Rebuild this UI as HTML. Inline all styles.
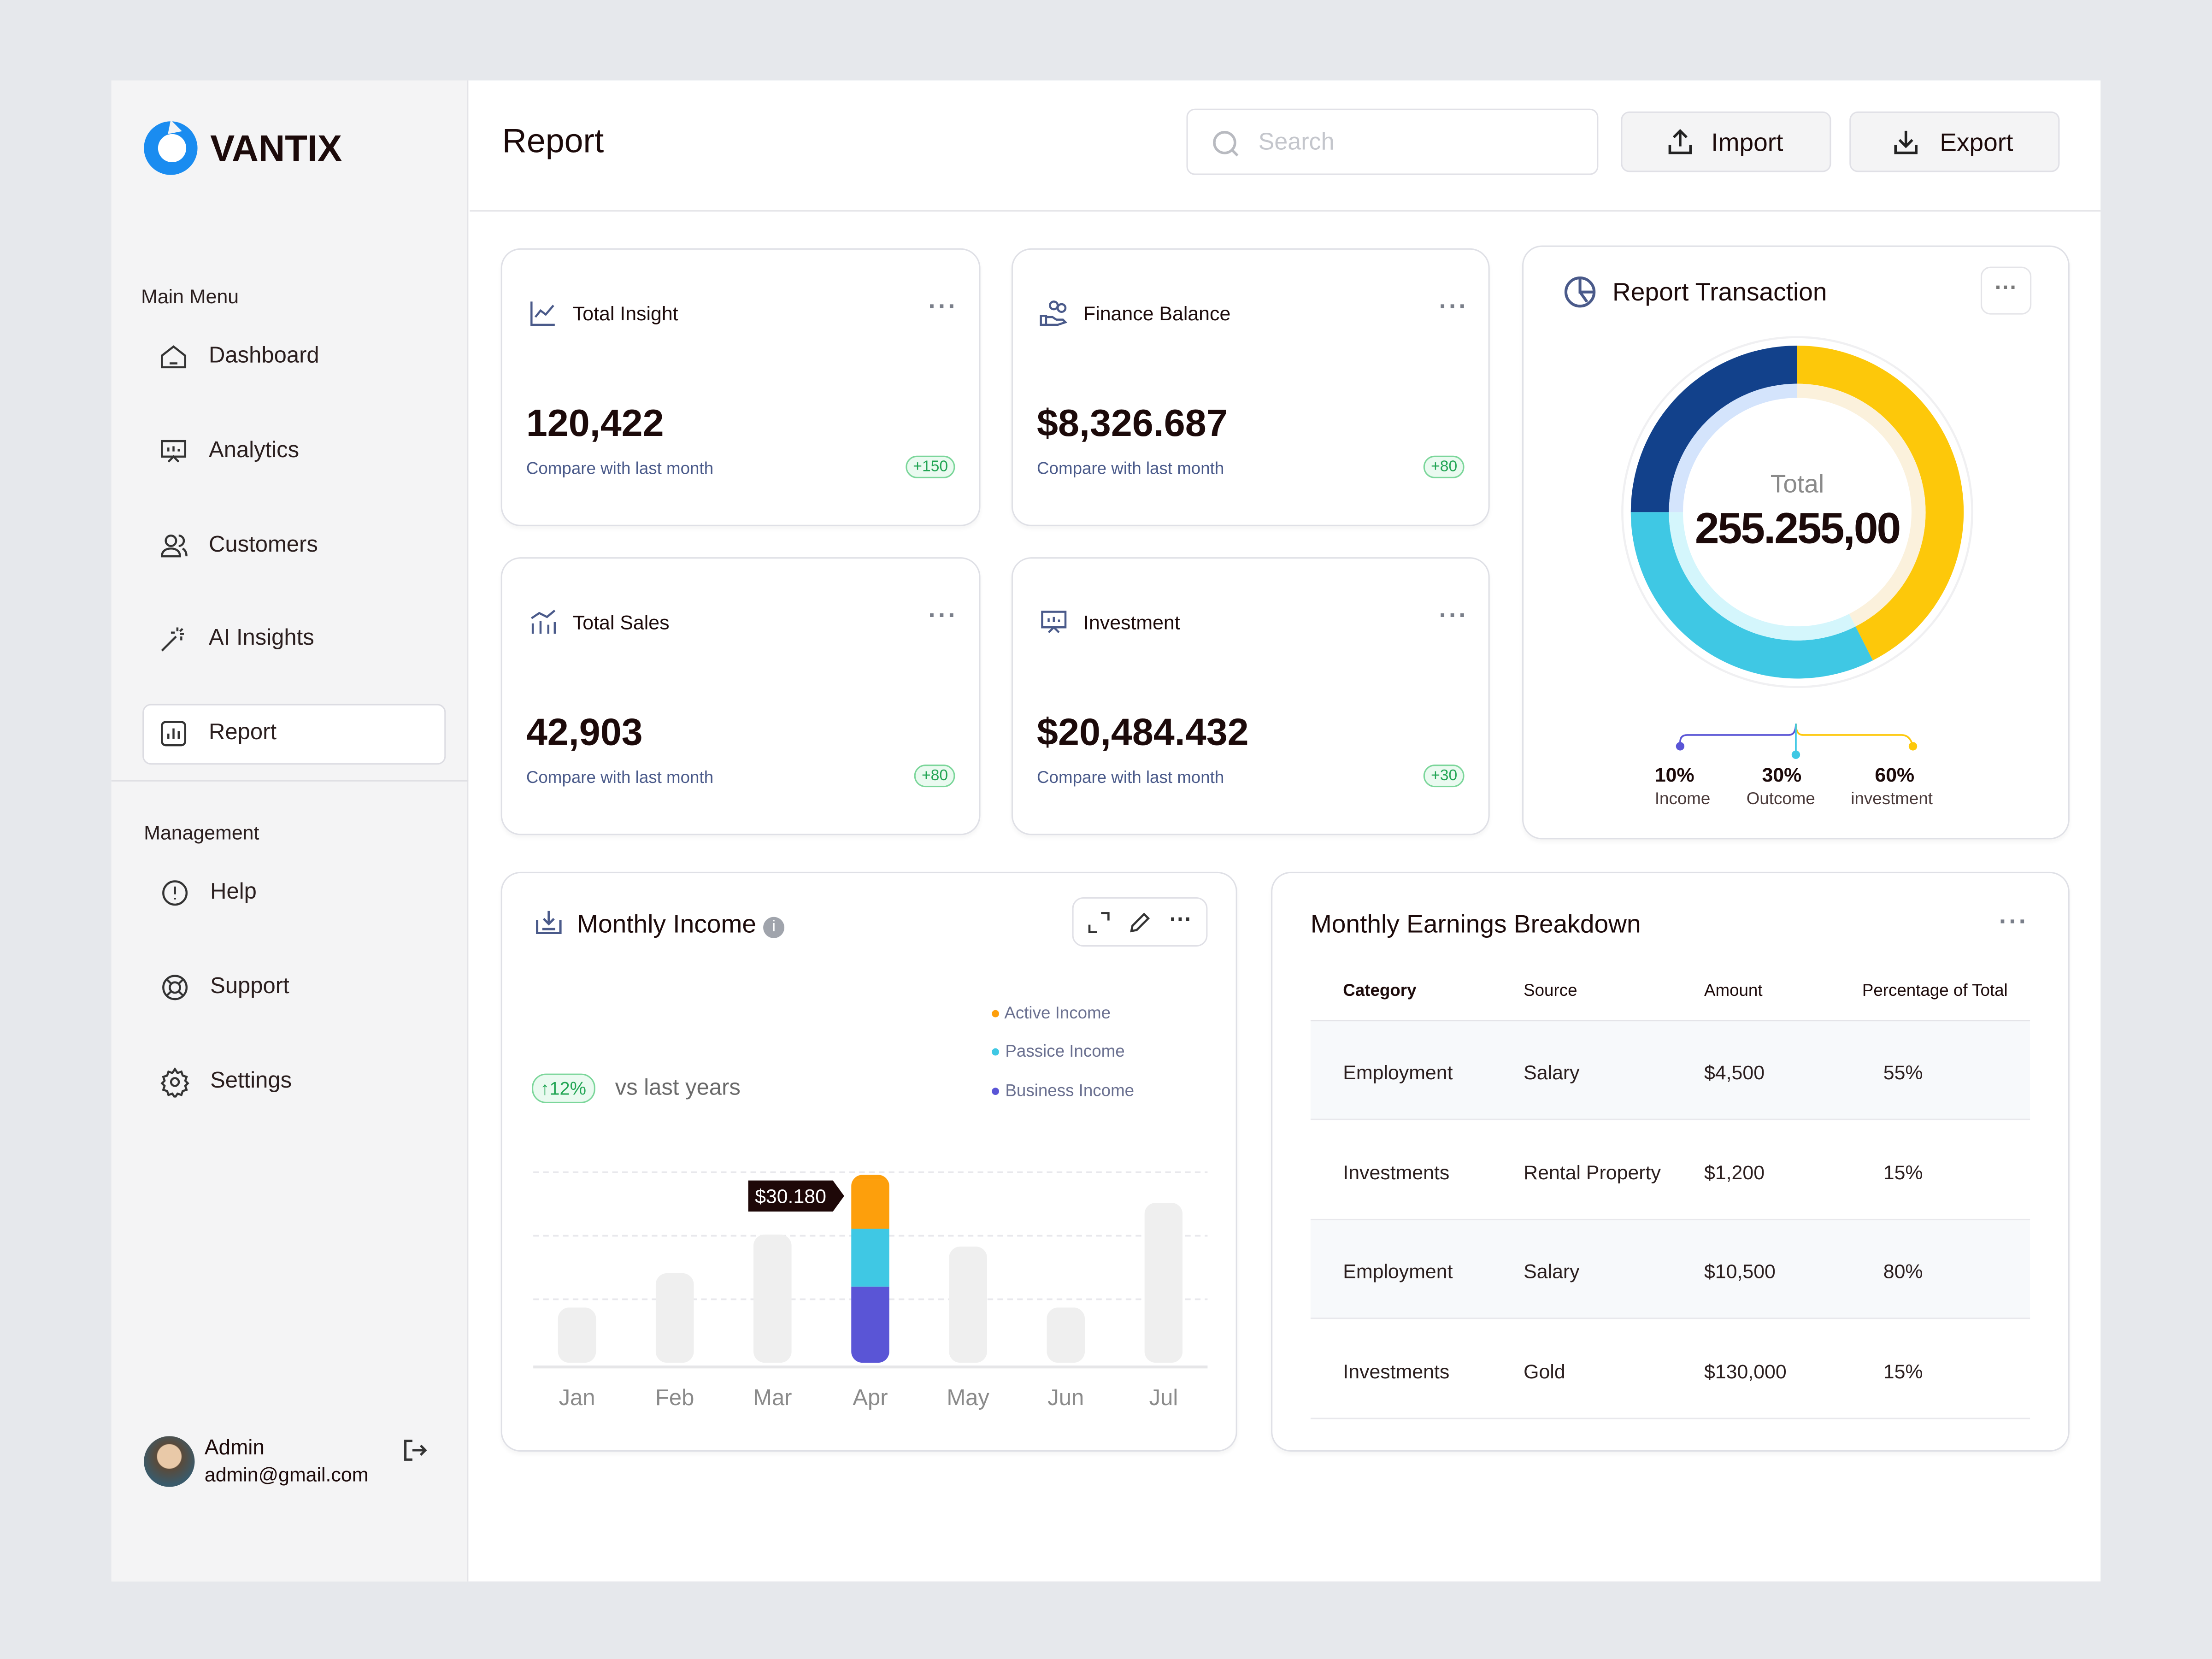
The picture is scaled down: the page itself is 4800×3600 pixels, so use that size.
<!DOCTYPE html>
<html><head><meta charset="utf-8">
<style>
*{box-sizing:border-box;margin:0;padding:0}
html,body{width:4800px;height:3600px;overflow:hidden;background:#e6e8ec;font-family:"Liberation Sans",sans-serif;color:#1c0a0a}
#s{position:absolute;left:0;top:0;width:1568px;height:1176px;transform:scale(3.06123);transform-origin:0 0}
.abs{position:absolute}
.card{position:absolute;background:#fff;border:1px solid #dfe0e6;border-radius:14px;box-shadow:0 2px 3px rgba(0,0,0,.04)}
.nav{position:absolute;left:112px;display:flex;align-items:center;gap:14px;font-size:16px;color:#2a1e1e}
.nav svg{width:22px;height:22px}
.dots{position:absolute;color:#7a7f8a;font-size:18px;letter-spacing:1px;font-weight:bold}
.ct{position:absolute;left:18px;top:34px;font-size:14px;display:flex;gap:10px;align-items:center}
.big{position:absolute;left:17px;top:108px;font-size:27px;font-weight:bold}
.cmp{position:absolute;left:17px;top:148px;font-size:12px;color:#4a5a8a}
.badge{position:absolute;right:17px;top:146px;font-size:11px;color:#22a554;border:1px solid #7bd69a;background:#eafaf0;border-radius:9px;padding:1px 4px}
.tr{position:absolute;left:27px;width:510px;height:70px;font-size:14px;color:#2a1e1e}
.tr span{position:absolute;top:28px}
</style></head><body>
<div id="s">
<div class="abs" style="left:79px;top:57px;width:1410px;height:1064px;background:#fff"></div>
<div class="abs" style="left:79px;top:57px;width:253px;height:1064px;background:#f4f4f5;border-right:1px solid #e4e4e8">
  <div class="abs" style="left:22px;top:28px;display:flex;align-items:center;gap:8px">
    <svg width="40" height="40" viewBox="0 0 40 40"><circle cx="20" cy="20" r="19" fill="#1a8cf0"/><circle cx="21" cy="20" r="10" fill="#fff"/><path d="M20 0 L28 8 L18 10Z" fill="#f4f4f5"/></svg>
    <span style="font-size:26px;font-weight:bold;color:#1c0a0a">VANTIX</span></div>
  <div class="abs" style="left:21px;top:145px;font-size:14px;color:#2a1e1e">Main Menu</div>
  <div class="abs" style="left:0;top:496px;width:253px;height:1px;background:#e0e0e4"></div>
  <div class="abs" style="left:23px;top:525px;font-size:14px;color:#2a1e1e">Management</div>
</div>
<div class="abs" style="left:101px;top:499px;width:215px;height:43px;background:#fff;border:1px solid #dcdce2;border-radius:6px"></div>
<div class="nav" style="top:242px"><svg viewBox="0 0 24 24" fill="none" stroke="#333" stroke-width="1.6"><path d="M3 11l9-7 9 7v9H3z"/><path d="M9 17h6"/></svg>Dashboard</div>
<div class="nav" style="top:309px"><svg viewBox="0 0 24 24" fill="none" stroke="#333" stroke-width="1.6"><rect x="3" y="4" width="18" height="12"/><path d="M8 20l4-4 4 4M8 12v-3M12 12V8M16 12v-2"/></svg>Analytics</div>
<div class="nav" style="top:376px"><svg viewBox="0 0 24 24" fill="none" stroke="#333" stroke-width="1.6"><circle cx="10" cy="8" r="4"/><path d="M3 20c0-4 3-6 7-6s7 2 7 6zM16 4a4 4 0 010 8M19 14c2 1 3 3 3 6"/></svg>Customers</div>
<div class="nav" style="top:442px"><svg viewBox="0 0 24 24" fill="none" stroke="#333" stroke-width="1.6"><path d="M3 21L14 10M15 3v3M20 8h-3M19 4l-2 2M13 7h-3M18 13v-3"/></svg>AI Insights</div>
<div class="nav" style="top:509px"><svg viewBox="0 0 24 24" fill="none" stroke="#333" stroke-width="1.6"><rect x="3" y="3" width="18" height="18" rx="3"/><path d="M8 16v-4M12 16V8M16 16v-6"/></svg>Report</div>
<div class="nav" style="top:622px;left:113px"><svg viewBox="0 0 24 24" fill="none" stroke="#333" stroke-width="1.6"><circle cx="12" cy="12" r="9"/><path d="M12 7v6M12 16v1"/></svg>Help</div>
<div class="nav" style="top:689px;left:113px"><svg viewBox="0 0 24 24" fill="none" stroke="#333" stroke-width="1.6"><circle cx="12" cy="12" r="9"/><circle cx="12" cy="12" r="4"/><path d="M6 6l3 3M18 6l-3 3M6 18l3-3M18 18l-3-3"/></svg>Support</div>
<div class="nav" style="top:756px;left:113px"><svg viewBox="0 0 24 24" fill="none" stroke="#333" stroke-width="1.6"><circle cx="12" cy="12" r="3"/><path d="M12 2l2 3 3-1 1 3 3 1-1 3 2 2-2 2 1 3-3 1-1 3-3-1-2 3-2-3-3 1-1-3-3-1 1-3-2-2 2-2-1-3 3-1 1-3 3 1z"/></svg>Settings</div>
<div class="abs" style="left:102px;top:1018px;width:36px;height:36px;border-radius:50%;background:radial-gradient(circle at 50% 40%,#e9c9a8 30%,#5a4a3a 32%,#3a5a6a 70%)"></div>
<div class="abs" style="left:145px;top:1018px;font-size:15px">Admin</div>
<div class="abs" style="left:145px;top:1037px;font-size:14px">admin@gmail.com</div>
<svg class="abs" style="left:284px;top:1018px" width="20" height="20" viewBox="0 0 24 24" fill="none" stroke="#333" stroke-width="2"><path d="M10 4H4v16h6M10 12h11M17 8l4 4-4 4"/></svg>

<div class="abs" style="left:333px;top:149px;width:1156px;height:1px;background:#e4e4e8"></div>
<div class="abs" style="left:356px;top:87px;font-size:24px">Report</div>
<div class="abs" style="left:841px;top:77px;width:292px;height:47px;border:1px solid #e0e0e6;border-radius:6px;font-size:17px;color:#c4c6cc;padding:13px 0 0 50px">Search
<svg class="abs" style="left:16px;top:13px" width="22" height="22" viewBox="0 0 24 24" fill="none" stroke="#b8bac0" stroke-width="2"><circle cx="11" cy="11" r="8"/><path d="M17 17l4 4"/></svg></div>
<div class="abs" style="left:1149px;top:79px;width:149px;height:43px;background:#f4f4f5;border:1px solid #e0e0e6;border-radius:6px;font-size:18px;padding:11px 0 0 63px">Import
<svg class="abs" style="left:30px;top:10px" width="22" height="22" viewBox="0 0 24 24" fill="none" stroke="#222" stroke-width="2"><path d="M4 14v6h16v-6M12 15V3M7 8l5-5 5 5"/></svg></div>
<div class="abs" style="left:1311px;top:79px;width:149px;height:43px;background:#f4f4f5;border:1px solid #e0e0e6;border-radius:6px;font-size:18px;padding:11px 0 0 63px">Export
<svg class="abs" style="left:28px;top:10px" width="22" height="22" viewBox="0 0 24 24" fill="none" stroke="#222" stroke-width="2"><path d="M4 14v6h16v-6M12 3v12M7 10l5 5 5-5"/></svg></div>

<div class="card" style="left:355px;top:176px;width:340px;height:197px">
 <div class="ct"><svg width="22" height="22" viewBox="0 0 24 24" fill="none" stroke="#4a5a8a" stroke-width="1.6"><path d="M3 3v18h18M6 15l4-5 4 3 6-7"/></svg>Total Insight</div>
 <div class="dots" style="left:302px;top:30px">···</div>
 <div class="big">120,422</div>
 <div class="cmp">Compare with last month</div>
 <div class="badge">+150</div></div>
<div class="card" style="left:717px;top:176px;width:339px;height:197px">
 <div class="ct"><svg width="22" height="22" viewBox="0 0 24 24" fill="none" stroke="#4a5a8a" stroke-width="1.6"><circle cx="12" cy="6" r="3"/><circle cx="18" cy="8" r="3"/><path d="M2 14h4v7H2zM6 15h5l3 2h5l2 2-6 2H6"/></svg>Finance Balance</div>
 <div class="dots" style="left:302px;top:30px">···</div>
 <div class="big">$8,326.687</div>
 <div class="cmp">Compare with last month</div>
 <div class="badge">+80</div></div>
<div class="card" style="left:355px;top:395px;width:340px;height:197px">
 <div class="ct"><svg width="22" height="22" viewBox="0 0 24 24" fill="none" stroke="#4a5a8a" stroke-width="1.6"><path d="M4 21v-8M10 21v-10M16 21v-7M21 21v-9M3 9l6-4 6 3 6-5"/></svg>Total Sales</div>
 <div class="dots" style="left:302px;top:30px">···</div>
 <div class="big">42,903</div>
 <div class="cmp">Compare with last month</div>
 <div class="badge">+80</div></div>
<div class="card" style="left:717px;top:395px;width:339px;height:197px">
 <div class="ct"><svg width="22" height="22" viewBox="0 0 24 24" fill="none" stroke="#4a5a8a" stroke-width="1.6"><rect x="3" y="4" width="18" height="12"/><path d="M8 20l4-4 4 4M8 12v-3M12 12V8M16 12v-2"/></svg>Investment</div>
 <div class="dots" style="left:302px;top:30px">···</div>
 <div class="big">$20,484.432</div>
 <div class="cmp">Compare with last month</div>
 <div class="badge">+30</div></div>

<div class="card" style="left:1079px;top:174px;width:388px;height:421px">
 <svg class="abs" style="left:28px;top:20px" width="24" height="24" viewBox="0 0 24 24" fill="none" stroke="#4a5a8a" stroke-width="2"><circle cx="12" cy="12" r="10"/><path d="M12 2v10h10M12 12l5 7"/></svg>
 <div class="abs" style="left:63px;top:22px;font-size:18px">Report Transaction</div>
 <div class="abs" style="left:324px;top:14px;width:36px;height:34px;border:1px solid #e4e4e8;border-radius:7px;color:#777;font-weight:bold;text-align:center;padding-top:6px;font-size:16px">···</div>
 <svg id="donut" class="abs" style="left:0;top:0" width="388" height="421"></svg>
 <div class="abs" style="left:0;width:388px;top:158px;text-align:center;font-size:18px;color:#8a8a8a">Total</div>
 <div class="abs" style="left:0;width:388px;top:182px;text-align:center;font-size:31px;font-weight:bold;letter-spacing:-1px">255.255,00</div>
 <div class="abs" style="left:93px;top:366px;font-size:14px;font-weight:bold">10%</div>
 <div class="abs" style="left:93px;top:384px;font-size:12px;color:#4a3a3a">Income</div>
 <div class="abs" style="left:169px;top:366px;font-size:14px;font-weight:bold">30%</div>
 <div class="abs" style="left:158px;top:384px;font-size:12px;color:#4a3a3a">Outcome</div>
 <div class="abs" style="left:249px;top:366px;font-size:14px;font-weight:bold">60%</div>
 <div class="abs" style="left:232px;top:384px;font-size:12px;color:#4a3a3a">investment</div>
 <svg class="abs" style="left:0;top:330px" width="388" height="40" fill="none" stroke-width="1.2">
  <path d="M111 24v-3q0-5 5-5h72q5 0 5-8" stroke="#5a55d6"/><path d="M193 8q0 8 5 8h70q6 0 8 8" stroke="#fdc80a"/><path d="M193 8v22" stroke="#3fc8e4"/>
  <circle cx="111" cy="24" r="3" fill="#5a55d6" stroke="none"/><circle cx="193" cy="30" r="3" fill="#3fc8e4" stroke="none"/><circle cx="276" cy="24" r="3" fill="#fdc80a" stroke="none"/></svg>
</div>

<div class="card" style="left:355px;top:618px;width:522px;height:411px">
 <svg class="abs" style="left:22px;top:24px" width="22" height="22" viewBox="0 0 24 24" fill="none" stroke="#4a5a8a" stroke-width="1.8"><path d="M3 10v10h18V10M12 3v10M8 9l4 4 4-4M7 17h10"/></svg>
 <div class="abs" style="left:53px;top:26px;font-size:18px">Monthly Income <span style="display:inline-block;width:15px;height:15px;border-radius:50%;background:#a0a4ac;color:#fff;font-size:11px;text-align:center;vertical-align:1px;line-height:15px">i</span></div>
 <div class="abs" style="left:404px;top:17px;width:96px;height:35px;border:1px solid #e0e0e6;border-radius:8px"></div>
 <svg class="abs" style="left:414px;top:26px" width="18" height="18" viewBox="0 0 24 24" fill="none" stroke="#333" stroke-width="2"><path d="M3 14v7h7M21 10V3h-7"/></svg>
 <svg class="abs" style="left:443px;top:26px" width="18" height="18" viewBox="0 0 24 24" fill="none" stroke="#333" stroke-width="2"><path d="M4 20l1-5L16 4l4 4L9 19z"/></svg>
 <div class="abs" style="left:473px;top:25px;font-weight:bold;font-size:16px;color:#333">···</div>
 <div class="abs" style="left:21px;top:142px;font-size:13px;color:#22a554;border:1px solid #7bd69a;background:#eafaf0;border-radius:10px;padding:2px 5px">↑12%</div>
 <div class="abs" style="left:80px;top:144px;font-size:16px;color:#6a6a6a">vs last years</div>
 <div class="abs" style="left:346px;top:92px;font-size:12px;color:#6a7090"><span style="color:#fd9f0c">●</span> Active Income</div>
 <div class="abs" style="left:346px;top:119px;font-size:12px;color:#6a7090"><span style="color:#3fc8e4">●</span> Passice Income</div>
 <div class="abs" style="left:346px;top:147px;font-size:12px;color:#6a7090"><span style="color:#5a55d6">●</span> Business Income</div>
 <svg id="bars" class="abs" style="left:0;top:0" width="522" height="411"></svg>
</div>

<div class="card" style="left:901px;top:618px;width:566px;height:411px">
 <div class="abs" style="left:27px;top:26px;font-size:18px">Monthly Earnings Breakdown</div>
 <div class="dots" style="left:515px;top:24px">···</div>
 <div class="abs" style="left:27px;top:70px;width:510px;height:35px;border-bottom:1px solid #e4e4e8;font-size:12px">
  <span class="abs" style="left:23px;top:6px;font-weight:bold">Category</span><span class="abs" style="left:151px;top:6px">Source</span><span class="abs" style="left:279px;top:6px">Amount</span><span class="abs" style="left:391px;top:6px">Percentage of Total</span></div>
 <div class="tr" style="top:105px;background:#f7f9fb;border-bottom:1px solid #e8e8ec"><span style="left:23px">Employment</span><span style="left:151px">Salary</span><span style="left:279px">$4,500</span><span style="left:406px">55%</span></div>
 <div class="tr" style="top:176px;border-bottom:1px solid #e8e8ec"><span style="left:23px">Investments</span><span style="left:151px">Rental Property</span><span style="left:279px">$1,200</span><span style="left:406px">15%</span></div>
 <div class="tr" style="top:246px;background:#f7f9fb;border-bottom:1px solid #e8e8ec"><span style="left:23px">Employment</span><span style="left:151px">Salary</span><span style="left:279px">$10,500</span><span style="left:406px">80%</span></div>
 <div class="tr" style="top:317px;border-bottom:1px solid #e8e8ec"><span style="left:23px">Investments</span><span style="left:151px">Gold</span><span style="left:279px">$130,000</span><span style="left:406px">15%</span></div>
</div>
</div>
<script>
const months = ["Jan","Feb","Mar","Apr","May","Jun","Jul"];
const totals = [8.7, 14.1, 20.2, 29.6, 18.3, 8.7, 25.2];
const activeIncome = [0,0,0,7.8,0,0,0];
const passiveIncome = [0,0,0,9.1,0,0,0];
const businessIncome = [0,0,0,12.0,0,0,0];
const gridTicks = [10, 20, 30];
const highlightIndex = 3;
const tooltipLabel = "$30.180";

const donutLabels = ["Investment","Outcome","Income"];
const donutValues = [42.5, 32.5, 25];

const NS = "http://www.w3.org/2000/svg";
function mk(p, tag, attrs){const e=document.createElementNS(NS,tag);for(const k in attrs)e.setAttribute(k,attrs[k]);p.appendChild(e);return e;}

const bs = document.getElementById('bars');
const x0=22, x1=500, base=347, yMax=30, hPx=135;
const y = v => base - v/yMax*hPx;
const xc = i => 53 + i*69.3;
gridTicks.forEach(t=>{
  const l=mk(bs,'line',{x1:x0,x2:x1,y1:y(t),y2:y(t),stroke:'#e8e8ec','stroke-width':1.2,'stroke-dasharray':'4 3'});
  
  
});
const ax=mk(bs,'line',{x1:x0,x2:x1,y1:base+3,y2:base+3,stroke:'#e6e6e8','stroke-width':2});


const bw=27;
months.forEach((m,i)=>{
  const cx=xc(i);
  const cp=mk(bs,'clipPath',{id:'c'+i});
  mk(cp,'rect',{x:cx-bw/2,y:y(totals[i]),width:bw,height:base-y(totals[i]),rx:8});
  const g=mk(bs,'g',{'clip-path':'url(#c'+i+')'});
  
  
  if(i===highlightIndex){
    let cur=0;
    [[businessIncome,'#5a55d6'],[passiveIncome,'#3fc8e4'],[activeIncome,'#fd9f0c']].forEach(([arr,c])=>{
      const v=arr[i]; mk(g,'rect',{x:cx-bw/2,y:y(cur+v),width:bw,height:y(cur)-y(cur+v),fill:c}); cur+=v;
    });
    if(cur<totals[i]) mk(g,'rect',{x:cx-bw/2,y:y(totals[i]),width:bw,height:y(cur)-y(totals[i]),fill:'#fd9f0c'});
  } else {
    mk(g,'rect',{x:cx-bw/2,y:y(totals[i]),width:bw,height:base-y(totals[i]),fill:'#efefef'});
  }
  const t=mk(bs,'text',{x:cx,y:base+30,'text-anchor':'middle','font-size':16,fill:'#8a8a8a','font-family':'Liberation Sans'});
  t.textContent=m;
  
  
});
const hx=xc(highlightIndex)-bw/2-5, ty=y(totals[highlightIndex])+14;
const tg=mk(bs,'g',{});


mk(tg,'path',{d:`M${hx-68} ${ty-10} h60 l8 11 l-8 11 h-60 z`,fill:'#1e0808'});
const tt=mk(tg,'text',{x:hx-38,y:ty+6,'text-anchor':'middle','font-size':14,fill:'#fff','font-family':'Liberation Sans'});
tt.textContent=tooltipLabel;

const ds=document.getElementById('donut');
const cx=194, cy=188, R=118, r=91, r2=81;
mk(ds,'circle',{cx,cy,r:R+6,fill:'none',stroke:'#f0f0f2','stroke-width':1.5});
const cols=['#fdc80a','#3fc8e4','#12418b'], light=['#fbf1dc','#d4f6fc','#d4e4fc'];
const tot=donutValues.reduce((a,b)=>a+b,0);
function arc(a0,a1,ro,ri){
  const p=(a,rr)=>[cx+rr*Math.sin(a),cy-rr*Math.cos(a)];
  const lg=(a1-a0)>Math.PI?1:0;
  const [a,b]=p(a0,ro),[c,d]=p(a1,ro),[e,f]=p(a1,ri),[g,h]=p(a0,ri);
  return `M${a} ${b}A${ro} ${ro} 0 ${lg} 1 ${c} ${d}L${e} ${f}A${ri} ${ri} 0 ${lg} 0 ${g} ${h}Z`;
}
let acc=0;
donutValues.forEach((v,i)=>{
  const a0=acc/tot*2*Math.PI, a1=(acc+v)/tot*2*Math.PI; acc+=v;
  const s=mk(ds,'path',{d:arc(a0,a1,R,r),fill:cols[i]});
  
  
  mk(ds,'path',{d:arc(a0,a1,r,r2),fill:light[i]});
});
</script>
</body></html>
